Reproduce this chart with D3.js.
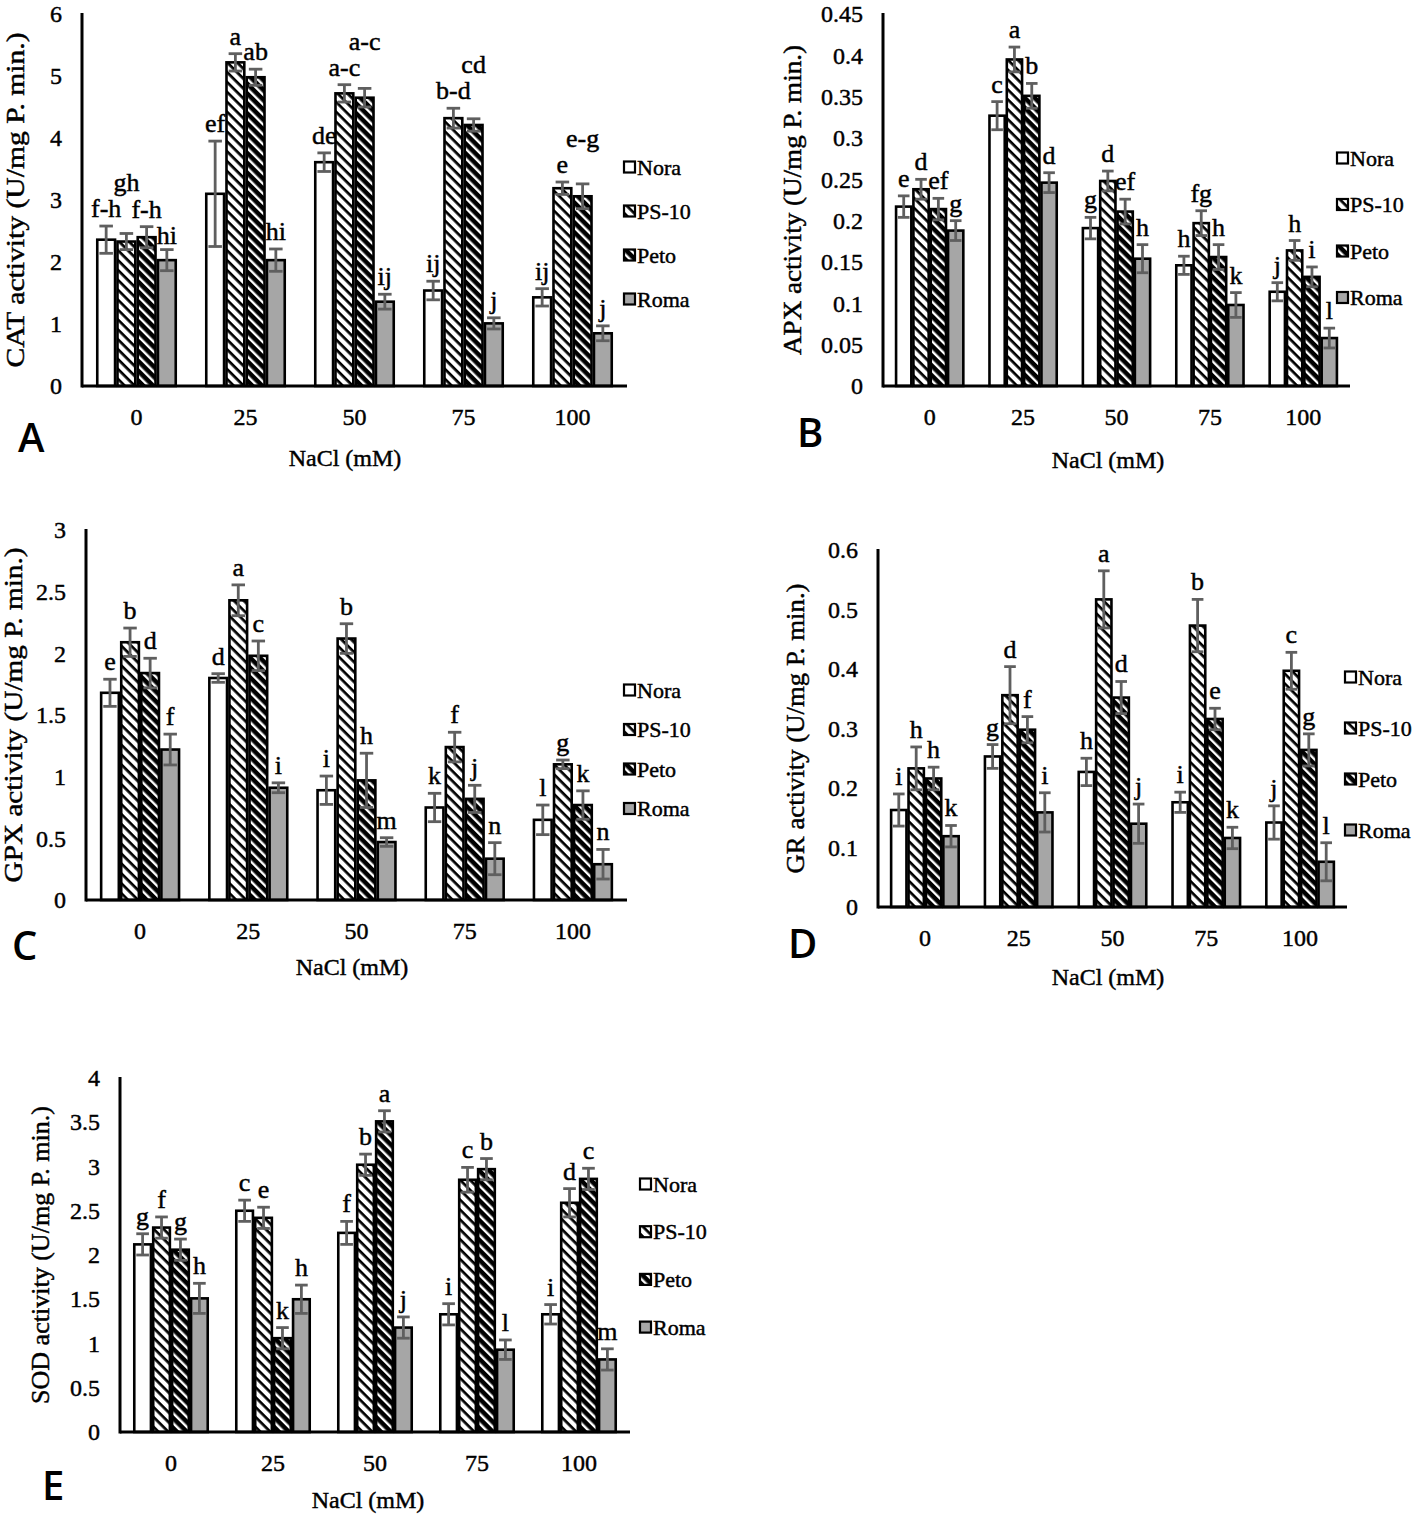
<!DOCTYPE html>
<html>
<head>
<meta charset="utf-8">
<script src="https://cdn.jsdelivr.net/npm/d3@7"></script>
<style>
  body { margin: 0; background: #fff; }
  text { font-family: "Liberation Serif", "Times New Roman", serif; fill: #000; }
  .heavy { stroke: #000; stroke-width: 0.45px; }
</style>
</head>
<body>
<div id="app"></div>
<script>
const width = 1424;
const height = 1516;

const salt = ["0", "25", "50", "75", "100"];
const cultivars = ["Nora", "PS-10", "Peto", "Roma"];

// rows = NaCl level, columns = cultivar
const catMean = [[2.36, 2.33, 2.40, 2.03], [3.10, 5.22, 4.98, 2.03], [3.61, 4.72, 4.65, 1.36], [1.54, 4.32, 4.21, 1.01], [1.43, 3.19, 3.06, 0.85]];
const catErr = [[0.22, 0.13, 0.17, 0.17], [0.85, 0.14, 0.13, 0.18], [0.15, 0.14, 0.15, 0.12], [0.15, 0.16, 0.10, 0.09], [0.14, 0.10, 0.20, 0.12]];
const catLetters = [["f-h", "gh", "f-h", "hi"], ["ef", "a", "ab", "hi"], ["de", "a-c", "a-c", "ij"], ["ij", "b-d", "cd", "j"], ["ij", "e", "e-g", "j"]];

const apxMean = [[0.217, 0.238, 0.214, 0.188], [0.327, 0.395, 0.351, 0.246], [0.191, 0.248, 0.211, 0.154], [0.146, 0.197, 0.156, 0.098], [0.114, 0.164, 0.132, 0.058]];
const apxErr = [[0.013, 0.012, 0.013, 0.012], [0.017, 0.015, 0.015, 0.012], [0.013, 0.012, 0.015, 0.017], [0.011, 0.015, 0.015, 0.015], [0.011, 0.012, 0.012, 0.012]];
const apxLetters = [["e", "d", "ef", "g"], ["c", "a", "b", "d"], ["g", "d", "ef", "h"], ["h", "fg", "h", "k"], ["j", "h", "i", "l"]];

const gpxMean = [[1.68, 2.09, 1.84, 1.22], [1.80, 2.43, 1.98, 0.91], [0.89, 2.12, 0.97, 0.47], [0.75, 1.24, 0.82, 0.335], [0.65, 1.10, 0.77, 0.29]];
const gpxErr = [[0.11, 0.115, 0.12, 0.125], [0.035, 0.125, 0.12, 0.04], [0.115, 0.12, 0.22, 0.035], [0.115, 0.12, 0.11, 0.13], [0.12, 0.035, 0.115, 0.12]];
const gpxLetters = [["e", "b", "d", "f"], ["d", "a", "c", "i"], ["i", "b", "h", "m"], ["k", "f", "j", "n"], ["l", "g", "k", "n"]];

const grMean = [[0.163, 0.233, 0.216, 0.119], [0.253, 0.356, 0.298, 0.159], [0.227, 0.517, 0.352, 0.14], [0.176, 0.473, 0.316, 0.116], [0.142, 0.397, 0.264, 0.076]];
const grErr = [[0.027, 0.036, 0.019, 0.018], [0.02, 0.048, 0.022, 0.033], [0.023, 0.048, 0.027, 0.033], [0.017, 0.044, 0.018, 0.018], [0.028, 0.031, 0.027, 0.032]];
const grLetters = [["i", "h", "h", "k"], ["g", "d", "f", "i"], ["h", "a", "d", "j"], ["i", "b", "e", "k"], ["j", "c", "g", "l"]];

const sodMean = [[2.12, 2.31, 2.06, 1.51], [2.50, 2.42, 1.06, 1.50], [2.25, 3.02, 3.51, 1.18], [1.33, 2.85, 2.97, 0.93], [1.33, 2.59, 2.86, 0.82]];
const sodErr = [[0.12, 0.12, 0.12, 0.17], [0.12, 0.12, 0.12, 0.16], [0.13, 0.12, 0.12, 0.12], [0.12, 0.14, 0.12, 0.11], [0.11, 0.16, 0.12, 0.12]];
const sodLetters = [["g", "f", "g", "h"], ["c", "e", "k", "h"], ["f", "b", "a", "j"], ["i", "c", "b", "l"], ["i", "d", "c", "m"]];

const panels = [
  { tag: "A", title: "CAT activity (U/mg P. min.)", mean: catMean, err: catErr, letters: catLetters, max: 6, step: 1,
    x0: 82, x1: 627, top: 14, zero: 386, titleX: 15, titleLen: 335, legX: 624, legY: 167, legGap: 44,
    tagX: 18, tagY: 452, xTitleX: 345, xTitleY: 466 },
  { tag: "B", title: "APX activity (U/mg P. min.)", mean: apxMean, err: apxErr, letters: apxLetters, max: 0.45, step: 0.05,
    x0: 883, x1: 1350, top: 14, zero: 386, titleX: 792, titleLen: 310, legX: 1337, legY: 158, legGap: 46.5,
    tagX: 797, tagY: 447, xTitleX: 1108, xTitleY: 468 },
  { tag: "C", title: "GPX activity (U/mg P. min.)", mean: gpxMean, err: gpxErr, letters: gpxLetters, max: 3, step: 0.5,
    x0: 86, x1: 627, top: 530, zero: 900, titleX: 13, titleLen: 335, legX: 624, legY: 690, legGap: 39.5,
    tagX: 12, tagY: 960, xTitleX: 352, xTitleY: 975 },
  { tag: "D", title: "GR activity (U/mg P. min.)", mean: grMean, err: grErr, letters: grLetters, max: 0.6, step: 0.1,
    x0: 878, x1: 1347, top: 550, zero: 907, titleX: 795, titleLen: 290, legX: 1345, legY: 677, legGap: 51,
    tagX: 788, tagY: 958, xTitleX: 1108, xTitleY: 985 },
  { tag: "E", title: "SOD activity (U/mg P. min.)", mean: sodMean, err: sodErr, letters: sodLetters, max: 4, step: 0.5,
    x0: 120, x1: 630, top: 1078, zero: 1432, titleX: 40, titleLen: 298, legX: 640, legY: 1184, legGap: 47.7,
    tagX: 42, tagY: 1500, xTitleX: 368, xTitleY: 1508 }
];

const fills = ["#ffffff", "url(#hatchLight)", "url(#hatchDark)", "#a6a6a6"];
const errColor = "#5f5f5f";

const svg = d3.select("#app").append("svg")
  .attr("width", width)
  .attr("height", height)
  .style("display", "block");

svg.append("rect").attr("width", width).attr("height", height).attr("fill", "#fff");

const defs = svg.append("defs");

// PS-10: light downward diagonal
const light = defs.append("pattern")
  .attr("id", "hatchLight")
  .attr("patternUnits", "userSpaceOnUse")
  .attr("width", 8)
  .attr("height", 7)
  .attr("patternTransform", "rotate(45)");
light.append("rect").attr("width", 8).attr("height", 7).attr("fill", "#fff");
light.append("rect").attr("width", 8).attr("height", 2.7).attr("fill", "#000");

// Peto: dark downward diagonal
const dark = defs.append("pattern")
  .attr("id", "hatchDark")
  .attr("patternUnits", "userSpaceOnUse")
  .attr("width", 8)
  .attr("height", 7)
  .attr("patternTransform", "rotate(45)");
dark.append("rect").attr("width", 8).attr("height", 7).attr("fill", "#fff");
dark.append("rect").attr("width", 8).attr("height", 4.6).attr("fill", "#000");

const drawPanel = p => {
  const g = svg.append("g");

  const x = d3.scaleBand()
    .domain(salt)
    .range([p.x0, p.x1])
    .paddingInner(0.28)
    .paddingOuter(0.14);

  const xs = d3.scaleBand()
    .domain(cultivars)
    .range([0, x.bandwidth()])
    .paddingInner(0.12);

  const y = d3.scaleLinear()
    .domain([0, p.max])
    .range([p.zero, p.top]);

  const ticks = d3.range(0, p.max + p.step / 2, p.step);

  // y axis labels
  const yAxis = g.append("g")
    .attr("transform", `translate(${p.x0},0)`)
    .call(d3.axisLeft(y).tickValues(ticks).tickSize(0).tickPadding(20)
      .tickFormat(d => String(+d.toFixed(2))));
  yAxis.select(".domain").remove();
  yAxis.selectAll("text")
    .attr("class", "heavy")
    .style("font-family", "Liberation Serif")
    .style("font-size", "24px")
    .attr("fill", "#000");

  // x axis labels
  const xAxis = g.append("g")
    .attr("transform", `translate(0,${p.zero})`)
    .call(d3.axisBottom(x).tickSize(0).tickPadding(22));
  xAxis.select(".domain").remove();
  xAxis.selectAll("text")
    .attr("class", "heavy")
    .style("font-family", "Liberation Serif")
    .style("font-size", "24px")
    .attr("fill", "#000");

  const rows = p.mean.map((r, i) => ({
    level: salt[i],
    items: r.map((v, j) => ({ cultivar: cultivars[j], j, v, e: p.err[i][j], lab: p.letters[i][j] }))
  }));

  const grp = g.selectAll("g.grp")
    .data(rows)
    .enter()
    .append("g")
    .attr("class", "grp")
    .attr("transform", d => `translate(${x(d.level)},0)`);

  grp.selectAll("rect")
    .data(d => d.items)
    .enter()
    .append("rect")
    .attr("x", d => xs(d.cultivar))
    .attr("y", d => y(d.v))
    .attr("width", xs.bandwidth())
    .attr("height", d => p.zero - y(d.v))
    .attr("fill", d => fills[d.j])
    .attr("stroke", "#000")
    .attr("stroke-width", 2.6);

  const capHalf = xs.bandwidth() * 0.38;
  const eb = grp.selectAll("g.err")
    .data(d => d.items)
    .enter()
    .append("g")
    .attr("class", "err")
    .attr("stroke", errColor)
    .attr("stroke-width", 2.8);
  eb.append("line")
    .attr("x1", d => xs(d.cultivar) + xs.bandwidth() / 2)
    .attr("x2", d => xs(d.cultivar) + xs.bandwidth() / 2)
    .attr("y1", d => y(d.v - d.e))
    .attr("y2", d => y(d.v + d.e));
  eb.append("line")
    .attr("x1", d => xs(d.cultivar) + xs.bandwidth() / 2 - capHalf)
    .attr("x2", d => xs(d.cultivar) + xs.bandwidth() / 2 + capHalf)
    .attr("y1", d => y(d.v + d.e))
    .attr("y2", d => y(d.v + d.e));
  eb.append("line")
    .attr("x1", d => xs(d.cultivar) + xs.bandwidth() / 2 - capHalf)
    .attr("x2", d => xs(d.cultivar) + xs.bandwidth() / 2 + capHalf)
    .attr("y1", d => y(d.v - d.e))
    .attr("y2", d => y(d.v - d.e));

  // significance letters; a letter that would hit a neighbour is pushed
  // down if there is room above its own error bar, otherwise lifted
  const lift = 26;
  grp.each(function (d) {
    const placed = [];
    d.items.forEach(it => {
      const cx = xs(it.cultivar) + xs.bandwidth() / 2;
      const t = d3.select(this).append("text")
        .attr("class", "heavy")
        .attr("text-anchor", "middle")
        .style("font-size", "26px")
        .text(it.lab);
      const w = t.node().getComputedTextLength();
      const errTop = y(it.v + it.e);
      let by = errTop - 9;
      for (let k = 0; k < 12; k++) {
        const hit = placed.find(q => Math.abs(cx - q.cx) < (w + q.w) / 2 && Math.abs(by - q.by) < lift);
        if (!hit) break;
        if (by > hit.by && hit.by + lift <= errTop - 3) by = hit.by + lift;
        else by = hit.by - lift;
      }
      placed.push({ cx, w, by });
      t.attr("x", cx).attr("y", by);
    });
  });

  // axis lines
  g.append("line")
    .attr("x1", p.x0).attr("x2", p.x0)
    .attr("y1", p.top - 1).attr("y2", p.zero + 1.5)
    .attr("stroke", "#000").attr("stroke-width", 3);
  g.append("line")
    .attr("x1", p.x0).attr("x2", p.x1)
    .attr("y1", p.zero).attr("y2", p.zero)
    .attr("stroke", "#000").attr("stroke-width", 3);

  // legend
  const leg = g.selectAll("g.leg")
    .data(cultivars)
    .enter()
    .append("g")
    .attr("class", "leg")
    .attr("transform", (d, i) => `translate(${p.legX},${p.legY + i * p.legGap})`);
  leg.append("rect")
    .attr("x", 0).attr("y", -5.5)
    .attr("width", 11).attr("height", 11)
    .attr("fill", (d, i) => fills[i])
    .attr("stroke", "#000")
    .attr("stroke-width", 2.2);
  leg.append("text")
    .attr("class", "heavy")
    .attr("x", 13).attr("y", 7.5)
    .style("font-size", "22px")
    .text(d => d);

  // axis titles
  g.append("text")
    .attr("class", "heavy")
    .attr("transform", `translate(${p.titleX},${(p.top + p.zero) / 2}) rotate(-90)`)
    .attr("text-anchor", "middle")
    .attr("dy", "0.35em")
    .attr("textLength", p.titleLen)
    .attr("lengthAdjust", "spacingAndGlyphs")
    .style("font-size", "25px")
    .text(p.title);

  g.append("text")
    .attr("class", "heavy")
    .attr("x", p.xTitleX).attr("y", p.xTitleY)
    .attr("text-anchor", "middle")
    .style("font-size", "24px")
    .text("NaCl (mM)");

  g.append("text")
    .attr("x", p.tagX).attr("y", p.tagY)
    .style("font-family", "'Open Sans', 'Noto Sans', sans-serif")
    .style("font-size", "40px")
    .style("font-weight", 600)
    .text(p.tag);
};

panels.forEach(drawPanel);
</script>
</body>
</html>
